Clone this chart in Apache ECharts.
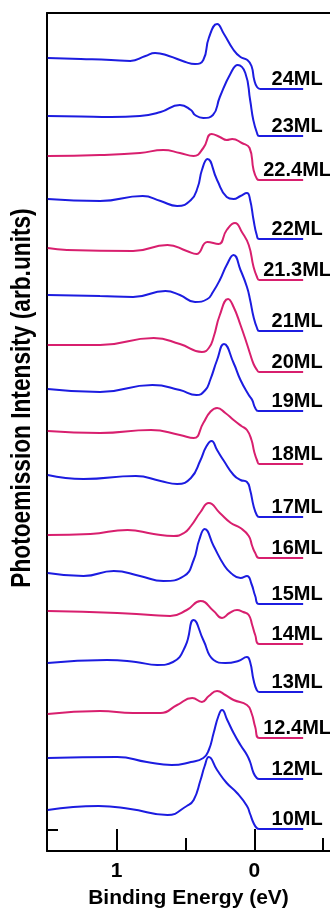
<!DOCTYPE html>
<html>
<head>
<meta charset="utf-8">
<script src="https://cdn.jsdelivr.net/npm/echarts@6/dist/echarts.min.js"></script>
<style>
  html, body { margin: 0; padding: 0; background: #fff; }
  #chart { width: 330px; height: 910px; }
</style>
</head>
<body>
<div id="chart"></div>
<script>
// labels of the spectra (film thickness), top to bottom
const names = ['24ML', '23ML', '22.4ML', '22ML', '21.3ML', '21ML', '20ML', '19ML', '18ML',
               '17ML', '16ML', '15ML', '14ML', '13ML', '12.4ML', '12ML', '10ML'];
// vertical offset of every spectrum (level of its tail, arb. units)
const offsets = [762, 715, 671, 612, 571, 520, 479, 440, 387, 334, 293, 247, 207, 159, 113, 72, 22];
// pink = intermediate thickness
const pinkOnes = ['22.4ML', '21.3ML', '20ML', '18ML', '16ML', '14ML', '12.4ML'];

// spectra: [binding energy (eV), intensity above the tail]
const s24  = [[1.5,31],[1.26,30],[1.04,29],[0.90,28],[0.79,33],[0.72,36],[0.62,33],[0.50,27],[0.43,25],[0.37,29],[0.33,51],[0.27,65],[0.22,55],[0.15,39],[0.10,32],[0.05,29],[0.02,23],[0.00,9],[-0.02,2],[-0.045,0],[-0.355,0]];
const s23  = [[1.5,20],[1.26,19.5],[1.04,19],[0.83,20],[0.68,24],[0.54,31],[0.46,26],[0.43,21],[0.37,18],[0.30,21],[0.25,39],[0.17,63],[0.12,71],[0.065,63],[0.03,36],[0.007,16],[-0.02,3],[-0.036,0],[-0.355,0]];
const s224 = [[1.5,24],[1.12,25],[0.83,27],[0.66,30],[0.54,27],[0.44,24],[0.37,32],[0.31,46],[0.25,43],[0.20,40],[0.16,41],[0.09,37],[0.034,32],[0.005,10],[-0.02,1],[-0.036,0],[-0.355,0]];
const s22  = [[1.5,40],[1.12,38],[0.81,43],[0.68,38],[0.56,33],[0.46,39],[0.41,52],[0.38,69],[0.34,80],[0.27,59],[0.20,42],[0.15,40],[0.10,43],[0.053,46],[0.03,39],[0.005,19],[-0.018,4],[-0.036,0],[-0.355,0]];
const s213 = [[1.5,32],[1.36,30],[0.88,29],[0.63,35],[0.49,29],[0.42,26],[0.34,38],[0.26,36],[0.20,50],[0.14,57],[0.09,48],[0.04,35],[0.005,13],[-0.02,3],[-0.036,0],[-0.355,0]];
const s21  = [[1.5,36],[1.12,35],[0.88,34],[0.645,40],[0.54,36],[0.43,29],[0.34,32],[0.30,39],[0.25,51],[0.20,66],[0.15,76],[0.10,61],[0.053,44],[0.03,31],[0.005,14],[-0.02,3],[-0.036,0],[-0.355,0]];
const s20  = [[1.5,27],[1.12,27],[0.73,34],[0.54,28],[0.38,20],[0.33,24],[0.295,35],[0.25,57],[0.19,73],[0.15,65],[0.10,47],[0.053,28],[0.03,18],[0.005,8],[-0.02,2],[-0.036,0],[-0.355,0]];
const s19  = [[1.5,22],[1.12,19],[0.74,26],[0.54,21],[0.42,16],[0.355,21],[0.32,31],[0.27,51],[0.22,67],[0.15,48],[0.10,31],[0.04,16],[0.015,11],[-0.007,3],[-0.03,0],[-0.355,0]];
const s18  = [[1.5,33],[1.12,31],[0.75,34],[0.54,29],[0.44,26],[0.37,41],[0.32,52],[0.27,56],[0.21,51],[0.15,44],[0.094,38],[0.053,34],[0.02,24],[0.0,12],[-0.022,3],[-0.036,0],[-0.355,0]];
const s17  = [[1.5,42],[1.24,38],[0.86,41],[0.68,36],[0.56,33],[0.46,39],[0.39,57],[0.35,70],[0.31,76],[0.27,67],[0.22,56],[0.15,42],[0.10,37],[0.053,35],[0.03,27],[0.005,11],[-0.018,2],[-0.036,0],[-0.355,0]];
const s16  = [[1.5,23],[1.19,24],[0.92,28],[0.73,24],[0.585,22],[0.51,25],[0.46,32],[0.39,46],[0.33,55],[0.25,45],[0.17,35],[0.10,30],[0.04,22],[0.015,12],[-0.007,5],[-0.036,0],[-0.355,0]];
const s15  = [[1.5,31],[1.24,28],[1.02,33],[0.83,28],[0.66,23],[0.51,28],[0.44,44],[0.40,64],[0.36,75],[0.295,58],[0.22,39],[0.17,31],[0.10,26],[0.053,28],[0.02,20],[-0.007,8],[-0.036,0],[-0.355,0]];
const s14  = [[1.5,33],[0.995,31],[0.75,29],[0.61,28],[0.49,34],[0.39,43],[0.295,33],[0.234,26],[0.18,31],[0.125,34],[0.08,32],[0.04,29],[0.015,19],[-0.007,9],[-0.036,0],[-0.355,0]];
const s13  = [[1.5,29],[1.07,32],[0.86,30],[0.705,27],[0.59,30],[0.50,46],[0.44,72],[0.37,52],[0.295,32],[0.21,29],[0.116,31],[0.053,35],[0.03,30],[0.005,12],[-0.018,2],[-0.036,0],[-0.355,0]];
const s124 = [[1.5,24],[1.12,27],[0.88,25],[0.68,25],[0.56,33],[0.45,40],[0.38,36],[0.33,42],[0.27,47],[0.21,43],[0.15,38],[0.053,33],[0.02,25],[-0.007,11],[-0.036,0],[-0.355,0]];
const s12  = [[1.5,21],[0.995,22],[0.78,17],[0.60,14],[0.46,17],[0.37,21],[0.33,29],[0.295,46],[0.26,63],[0.234,69],[0.196,59],[0.15,46],[0.10,34],[0.053,24],[0.03,17],[0.005,6],[-0.018,1],[-0.036,0],[-0.355,0]];
const s10  = [[1.5,19],[1.13,23],[0.90,20],[0.63,14],[0.49,23],[0.44,29],[0.39,49],[0.36,63],[0.33,72],[0.27,59],[0.20,46],[0.125,36],[0.053,23],[0.03,15],[0.005,6],[-0.018,1],[-0.036,0],[-0.355,0]];

const spectra = [s24, s23, s224, s22, s213, s21, s20, s19, s18, s17, s16, s15, s14, s13, s124, s12, s10];

const xTickLabels = [1, 0];
const xMinorTicks = [0.5, -0.5];
const yTicks = [21];

const FONT = 'Arial, "Liberation Sans", sans-serif';
const BLUE = '#1c1ce0';
const PINK = '#d81f6e';

const series = spectra.map((sp, i) => ({
    name: names[i],
    type: 'line',
    smooth: 0.5,
    symbol: 'circle',
    symbolSize: 0,
    showSymbol: true,
    lineStyle: { width: 2, color: pinkOnes.includes(names[i]) ? PINK : BLUE },
    itemStyle: { color: pinkOnes.includes(names[i]) ? PINK : BLUE },
    label: {
        show: false,
        position: 'inside',
        offset: [-6, -10],
        formatter: names[i],
        color: '#000',
        fontSize: 20,
        fontWeight: 'bold',
        fontFamily: FONT,
        align: 'center',
        verticalAlign: 'middle'
    },
    // 标签只挂在尾部最后一个点上
    data: sp.map((p, j) => j === sp.length - 1
        ? { value: [p[0], p[1] + offsets[i]], label: { show: true } }
        : [p[0], p[1] + offsets[i]])
}));

const axisLine = { show: true, onZero: false, lineStyle: { color: '#000', width: 2 } };

const option = {
    animation: false,
    grid: { left: 47, right: 0, top: 13, bottom: 59, outerBoundsMode: 'none', containLabel: false },
    xAxis: [
        {
            type: 'value', min: -0.55, max: 1.505, inverse: true, position: 'bottom',
            axisLine: axisLine,
            axisTick: { show: true, inside: true, length: 22, customValues: xTickLabels, lineStyle: { color: '#000', width: 2 } },
            axisLabel: { show: true, customValues: xTickLabels, margin: 10, color: '#000', fontSize: 21, fontWeight: 'bold', fontFamily: FONT },
            splitLine: { show: false },
            name: 'Binding Energy (eV)', nameLocation: 'middle', nameGap: 37,
            nameTextStyle: { color: '#000', fontSize: 21, fontWeight: 'bold', fontFamily: FONT }
        },
        {
            type: 'value', min: -0.55, max: 1.505, inverse: true, position: 'bottom',
            axisLine: { show: false, onZero: false },
            axisTick: { show: true, inside: true, length: 13, customValues: xMinorTicks, lineStyle: { color: '#000', width: 2 } },
            axisLabel: { show: false },
            splitLine: { show: false }
        },
        {
            type: 'value', min: -0.55, max: 1.505, inverse: true, position: 'top',
            axisLine: axisLine,
            axisTick: { show: false },
            axisLabel: { show: false },
            splitLine: { show: false }
        }
    ],
    yAxis: {
        type: 'value', min: 0, max: 838, position: 'left',
        axisLine: axisLine,
        axisTick: { show: true, inside: true, length: 11, customValues: yTicks, lineStyle: { color: '#000', width: 2 } },
        axisLabel: { show: false },
        splitLine: { show: false }
    },
    graphic: [{
        type: 'text',
        x: 22, y: 398,
        rotation: Math.PI / 2,
        scaleX: 0.81,
        style: {
            text: 'Photoemission Intensity (arb.units)',
            font: 'bold 28px ' + FONT,
            fill: '#000',
            align: 'center', verticalAlign: 'middle',
            textAlign: 'center', textVerticalAlign: 'middle'
        }
    }],
    series: series
};

const myChart = echarts.init(document.getElementById('chart'));
myChart.setOption(option);
</script>
</body>
</html>
